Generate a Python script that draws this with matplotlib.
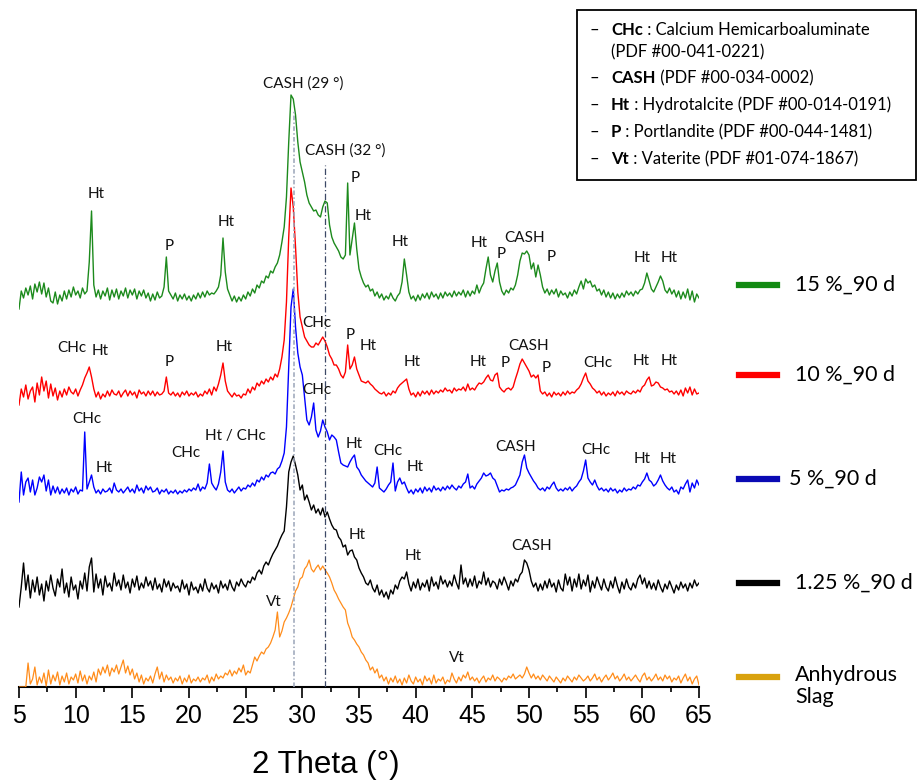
import matplotlib
matplotlib.use('Agg')
import matplotlib.pyplot as plt
from matplotlib.lines import Line2D
from matplotlib.patches import Rectangle
import numpy as np

# 2 Theta scan from 5 to 65 degrees, step 0.2 degree (301 points)
two_theta = np.linspace(5, 65, 301)

# Intensities (a.u., already offset for stacking), one row = 2 degrees
green_15 = [
    378, 396, 389, 399, 392, 401, 388, 403, 395, 405,
    393, 404, 390, 399, 386, 384, 395, 383, 392, 386,
    396, 388, 397, 390, 400, 392, 396, 389, 399, 393,
    396, 425, 476, 402, 390, 397, 388, 396, 391, 399,
    387, 397, 390, 398, 388, 396, 391, 399, 389, 397,
    392, 398, 388, 396, 391, 397, 389, 394, 386, 393,
    387, 395, 389, 391, 400, 430, 396, 392, 388, 394,
    386, 392, 388, 393, 387, 391, 386, 392, 388, 394,
    389, 395, 390, 396, 392, 394, 393, 396, 400, 412,
    449, 415, 398, 392, 386, 391, 385, 390, 386, 392,
    388, 395, 391, 398, 394, 402, 399, 406, 404, 411,
    409, 416, 414, 420, 424, 432, 445, 460, 490, 545,
    592, 588, 572, 545, 525, 515, 505, 492, 484, 480,
    476, 477, 472, 470, 480, 486, 484, 462, 450, 444,
    440, 436, 430, 428, 432, 504, 432, 448, 464, 438,
    418, 410, 404, 400, 402, 396, 398, 391, 395, 389,
    393, 387, 391, 388, 394, 389, 386, 391, 394, 405,
    428, 412, 395, 388, 391, 386, 392, 387, 393, 389,
    394, 388, 395, 390, 393, 388, 394, 389, 395, 391,
    394, 390, 396, 391, 395, 392, 397, 390, 396, 391,
    396, 393, 402, 394, 400, 404, 418, 430, 412, 405,
    416, 424, 405, 396, 392, 397, 394, 399, 397, 402,
    412, 426, 434, 433, 436, 432, 418, 424, 410, 422,
    412, 400, 394, 398, 392, 397, 393, 398, 390, 396,
    392, 394, 389, 395, 391, 397, 393, 400, 406, 398,
    408, 404, 406, 400, 402, 396, 398, 392, 397, 390,
    395, 389, 394, 388, 393, 389, 394, 390, 396, 392,
    395, 391, 396, 393, 397, 398, 404, 414, 406, 398,
    395, 400, 405, 411, 406, 397, 394, 399, 393, 397,
    390, 396, 388, 395, 389, 398, 387, 396, 385, 393,
    389]

red_10 = [
    282, 298, 290, 302, 288, 296, 300, 285, 304, 292,
    310, 296, 306, 289, 303, 291, 299, 287, 296, 290,
    298, 292, 300, 295, 293, 298, 291, 297, 302, 309,
    314, 320, 310, 298, 290, 295, 288, 293, 290, 296,
    291, 297, 293, 292, 296, 290, 294, 297, 291, 296,
    292, 295, 289, 297, 293, 295, 291, 296, 292, 296,
    291, 295, 292, 293, 296, 310, 294, 292, 295, 291,
    294, 290, 295, 292, 296, 291, 294, 292, 295, 290,
    293, 291, 296, 293, 298, 292, 300, 296, 303, 312,
    324, 306, 296, 293, 290, 294, 291, 292, 289, 293,
    292, 298, 294, 300, 297, 304, 301, 306, 303, 308,
    305, 310, 307, 313, 310, 318, 330, 347, 385, 450,
    499, 480, 440, 395, 370, 360, 350, 346, 342, 340,
    340, 344, 342, 346, 350, 346, 340, 332, 328, 322,
    322, 318, 312, 309, 315, 342, 318, 322, 330, 318,
    312, 306, 305, 304, 306, 303, 301, 298, 296, 294,
    293, 295, 291, 294, 292, 296, 294, 299, 302, 304,
    306, 308, 298, 292, 294, 290, 295, 291, 296, 293,
    296, 292, 297, 293, 296, 294, 297, 295, 299, 296,
    297, 294, 299, 296, 298, 297, 300, 296, 303, 297,
    299, 297, 301, 304, 303, 305, 309, 312, 307, 306,
    312, 314, 300, 297, 295, 298, 299, 297, 300, 308,
    315, 323, 328, 324, 320, 316, 310, 312, 309, 312,
    296, 293, 295, 291, 294, 290, 295, 292, 294, 291,
    295, 292, 296, 293, 295, 294, 297, 299, 303, 309,
    314, 306, 303, 299, 297, 294, 296, 292, 295, 291,
    294, 292, 295, 291, 296, 293, 295, 292, 296, 294,
    293, 296, 294, 297, 295, 300, 302, 307, 310, 301,
    302, 305, 304, 300, 299, 297, 298, 295, 296, 293,
    296, 292, 297, 291, 299, 294, 300, 292, 298, 293,
    294]

blue_5 = [
    185, 215, 192, 205, 209, 195, 207, 192, 199, 210,
    205, 212, 196, 207, 192, 201, 194, 200, 193, 198,
    194, 199, 192, 198, 195, 200, 193, 197, 196, 255,
    198, 205, 212, 200, 194, 197, 193, 198, 195, 196,
    199, 194, 204, 197, 195, 198, 194, 197, 200, 195,
    198, 194, 202, 196, 199, 194, 201, 197, 200, 195,
    196, 199, 193, 197, 195, 198, 193, 196, 194, 197,
    193, 196, 194, 197, 195, 198, 196, 199, 197, 203,
    196, 200, 198, 204, 223, 204, 200, 197, 203, 215,
    236, 205, 197, 195, 198, 194, 197, 200, 196, 199,
    198, 202, 200, 204, 201, 207, 205, 210, 207, 212,
    210, 214, 215, 213, 218, 220, 226, 234, 260, 320,
    380, 398, 360, 334, 320, 312, 290, 267, 262, 270,
    284, 257, 250, 256, 267, 260, 255, 247, 252, 250,
    247, 235, 224, 222, 221, 220, 225, 229, 232, 220,
    217, 212, 209, 206, 204, 202, 200, 204, 220, 199,
    197, 195, 198, 202, 205, 224, 196, 205, 209, 203,
    205, 199, 194, 197, 193, 198, 195, 199, 194, 200,
    196, 199, 195, 201, 197, 199, 196, 200, 197, 201,
    198, 202, 199, 197, 201, 199, 203, 205, 213, 199,
    201, 198, 203, 206, 209, 214, 211, 212, 214, 209,
    207, 201, 195, 197, 196, 198, 197, 199, 200, 202,
    207, 212, 225, 232, 219, 214, 210, 206, 203, 199,
    197, 199, 196, 200, 198, 202, 205, 199, 196, 198,
    196, 199, 197, 200, 196, 199, 201, 205, 208, 216,
    227, 209, 205, 202, 207, 201, 197, 199, 196, 198,
    195, 199, 196, 198, 194, 197, 195, 199, 196, 198,
    197, 200, 198, 202, 201, 205, 208, 214, 207, 205,
    201, 203, 207, 212, 206, 202, 199, 197, 200, 195,
    197, 193, 200, 198, 203, 207, 195, 204, 199, 207,
    202]

black_125 = [
    80, 100, 124, 97, 112, 89, 107, 95, 110, 92,
    103, 86, 106, 96, 112, 99, 91, 108, 100, 118,
    94, 104, 90, 110, 97, 102, 88, 106, 98, 114,
    96, 120, 129, 95, 113, 99, 108, 92, 111, 100,
    104, 96, 114, 101, 107, 97, 112, 99, 105, 94,
    108, 100, 111, 97, 104, 99, 110, 101, 106, 97,
    109, 98, 103, 95, 108, 100, 106, 96, 104, 99,
    101, 95, 107, 98, 103, 92, 105, 97, 100, 94,
    103, 96, 108, 99, 95, 104, 98, 102, 94, 106,
    99, 103, 97, 107, 100, 96, 105, 101, 108, 103,
    100, 106, 104, 110, 107, 114, 117, 113, 121, 125,
    122, 128, 133, 137, 141, 147, 152, 156, 180, 215,
    225, 231, 222, 212, 197, 202, 187, 192, 185, 177,
    182, 174, 178, 172, 179, 170, 175, 168, 162, 158,
    157, 150, 147, 140, 142, 132, 136, 137, 130, 127,
    119, 114, 110, 104, 102, 107, 99, 95, 102, 92,
    97, 90, 95, 88, 97, 93, 102, 98, 106, 110,
    108, 115, 103, 96, 105, 99, 108, 97, 104, 100,
    107, 96, 110, 101, 105, 98, 111, 103, 107, 100,
    106, 101, 112, 104, 98, 122, 103, 109, 100, 108,
    101, 111, 99, 106, 103, 115, 102, 109, 100, 106,
    104, 98, 108, 102, 110, 104, 97, 106, 101, 108,
    105, 112, 115, 127, 124, 117, 106, 100, 104, 96,
    103, 97, 106, 99, 108, 100, 104, 95, 107, 99,
    96, 113, 102, 110, 96, 108, 100, 113, 98, 107,
    101, 112, 95, 106, 99, 110, 103, 97, 108, 100,
    96, 106, 99, 110, 101, 94, 105, 98, 108, 100,
    97, 104, 99, 108, 112, 103, 109, 99, 106, 98,
    104, 97, 107, 100, 95, 103, 98, 106, 100, 94,
    102, 97, 105, 99, 103, 96, 104, 99, 107, 101,
    104]

orange_slag = [
    0, 0, 0, 0, 24, 3, 8, 20, 2, 10,
    4, 14, 1, 17, 3, 12, 6, 15, 2, 11,
    5, 14, 3, 10, 7, 13, 4, 16, 6, 12,
    3, 11, 7, 15, 5, 18, 12, 20, 14, 22,
    11, 19, 15, 22, 13, 20, 27, 14, 21, 12,
    18, 8, 14, 5, 12, 3, 9, 6, 11, 4,
    13, 20, 8, 15, 5, 12, 7, 10, 4, 9,
    6, 11, 3, 9, 5, 12, 4, 8, 6, 10,
    5, 9, 7, 12, 4, 10, 6, 13, 8, 11,
    9, 14, 12, 17, 11, 16, 13, 19, 15, 22,
    12, 16, 14, 22, 30, 26, 31, 35, 33, 38,
    40, 44, 50, 57, 75, 50, 56, 65, 69, 74,
    80, 88, 96, 100, 108, 110, 118, 121, 127, 118,
    115, 119, 122, 117, 121, 117, 114, 110, 104, 97,
    93, 88, 84, 80, 77, 64, 58, 50, 47, 43,
    40, 35, 32, 27, 24, 17, 20, 14, 18, 9,
    12, 6, 10, 3, 9, 5, 11, 4, 8, 2,
    9, 4, 12, 6, 3, 10, 5, 8, 2, 11,
    6, 9, 3, 12, 4, 8, 6, 10, 3, 7,
    5, 14, 8, 4, 10, 6, 12, 9, 15, 7,
    10, 6, 9, 4, 8, 11, 5, 9, 7, 12,
    6, 10, 8, 5, 9, 7, 11, 9, 13, 8,
    10, 12, 9, 13, 20, 14, 9, 13, 8, 11,
    7, 12, 9, 6, 11, 8, 5, 10, 7, 4,
    9, 6, 11, 8, 5, 10, 7, 12, 9, 6,
    8, 11, 6, 9, 13, 7, 10, 5, 9, 12,
    7, 10, 14, 8, 11, 6, 9, 13, 7, 10,
    6, 9, 12, 8, 5, 11, 14, 7, 10, 6,
    9, 13, 7, 10, 6, 12, 8, 11, 5, 9,
    7, 11, 4, 9, 13, 6, 10, 3, 8, 11,
    2]

series_names = ['15 %_90 d', '10 %_90 d', '5 %_90 d', '1.25 %_90 d', 'Anhydrous\nSlag']
series_values = [green_15, red_10, blue_5, black_125, orange_slag]

# Phase labels: (text, 2 Theta, height)
green_labels = [('Ht', 11.8, 493), ('P', 18.25, 441), ('Ht', 23.25, 465),
                ('CASH (29 °)', 30.05, 603), ('CASH (32 °)', 33.75, 536),
                ('P', 34.65, 509), ('Ht', 35.35, 471), ('Ht', 38.6, 445),
                ('Ht', 45.6, 444), ('P', 47.55, 433), ('CASH', 49.65, 449),
                ('P', 51.95, 430), ('Ht', 59.95, 429), ('Ht', 62.35, 429)]
red_labels = [('CHc', 9.7, 339), ('Ht', 12.15, 336), ('P', 18.25, 325),
              ('Ht', 23.1, 340), ('CHc', 31.3, 364), ('P', 34.2, 352),
              ('Ht', 35.8, 341), ('Ht', 39.7, 325), ('Ht', 45.5, 325),
              ('P', 47.9, 324), ('CASH', 50.0, 341), ('P', 51.5, 319),
              ('CHc', 56.1, 324), ('Ht', 59.9, 326), ('Ht', 62.35, 326)]
blue_labels = [('CHc', 11.0, 268), ('Ht', 12.5, 219), ('CHc', 19.75, 234),
               ('Ht / CHc', 24.05, 251), ('CHc', 31.3, 297), ('Ht', 34.55, 243),
               ('CHc', 37.55, 236), ('Ht', 39.95, 220), ('CASH', 48.85, 240),
               ('CHc', 55.9, 237), ('Ht', 59.95, 228), ('Ht', 62.25, 228)]
black_labels = [('Ht', 34.8, 152), ('Ht', 39.75, 131), ('CASH', 50.2, 141)]
orange_labels = [('Vt', 27.5, 85), ('Vt', 43.65, 29)]
phase_labels = [green_labels, red_labels, blue_labels, black_labels, orange_labels]

# Reference positions of the CASH reflections (degrees) and where the marker lines end
cash_lines = [29.3, 32.0]
cash_line_tops = [577, 522]

# Phase key in the box, top right
key_bold = ['CHc', None, 'CASH', 'Ht', 'P', 'Vt']
key_text = [' : Calcium Hemicarboaluminate', '(PDF #00-041-0221)', ' (PDF #00-034-0002)',
            ' : Hydrotalcite (PDF #00-014-0191)', ' : Portlandite (PDF #00-044-1481)',
            ' : Vaterite (PDF #01-074-1867)']

W, H = 918, 780
trace_colors = ['#1c8a1c', '#ff0000', '#0000ff', '#000000', '#ff8c1a']
legend_colors = ['#128a12', '#ff0000', '#0a0ab4', '#000000', '#d9a20e']
label_font = 'Lato'


def px(x, y):
    # pixel position (from top left) to figure fraction
    return x / W, 1 - y / H


def create_xrd_chart():
    fig = plt.figure(figsize=(W / 100, H / 100), dpi=100)
    ax = fig.add_axes([19 / W, (H - 687) / H, 680 / W, 687 / H])
    ax.set_xlim(5, 65)
    ax.set_ylim(0, 687)
    for side in ['left', 'right', 'top']:
        ax.spines[side].set_visible(False)
    ax.spines['bottom'].set_linewidth(1.5)
    ax.set_yticks([])
    ax.set_xticks(np.arange(5, 66, 5))
    ax.set_xticks(np.arange(7.5, 65, 5), minor=True)
    ax.tick_params(axis='x', which='major', length=8, width=1.2, pad=4,
                   labelsize=18)
    ax.tick_params(axis='x', which='minor', length=3.6, width=1.2)
    for lab in ax.get_xticklabels():
        lab.set_fontfamily('Liberation Sans')
    ax.patch.set_alpha(0)
    return fig, ax


def add_traces(ax):
    for values, color in zip(series_values, trace_colors):
        lw = 0.9 if color == '#ff8c1a' else 1.0
        ax.plot(two_theta, values, color=color, lw=lw, zorder=3)

    # CASH marker lines
    ax.plot([cash_lines[0]] * 2, [0, cash_line_tops[0]], color='#9aa4b8', lw=1.1,
            dashes=(3, 1.5, 1, 1.5), zorder=4)
    ax.plot([cash_lines[1]] * 2, [0, cash_line_tops[1]], color='#3c4866', lw=0.9,
            dashes=(5, 2, 1, 2), zorder=4)

    for labels in phase_labels:
        for text, x, y in labels:
            ax.text(x, y, text, ha='center', va='center', fontsize=11,
                    family=label_font, color='#111111', zorder=5)


def add_series_legend(fig):
    rows = [285, 375, 479, 583, 677]
    for name, color, y in zip(series_names, legend_colors, rows):
        x0, y0 = px(739, y)
        x1, _ = px(777, y)
        fig.add_artist(Line2D([x0, x1], [y0, y0], color=color, lw=4.5,
                              transform=fig.transFigure))
        tx = 789 if name.startswith('5 ') else 795
        if '\n' in name:
            fig.text(*px(tx, 665), name, ha='left', va='top', fontsize=15.5,
                     family=label_font, linespacing=1.15)
        else:
            fig.text(*px(tx, y), name, ha='left', va='center', fontsize=15.5,
                     family=label_font)


def add_phase_key(fig):
    x0, y0 = px(577, 180)
    fig.add_artist(Rectangle((x0, y0), 339 / W, 170 / H, transform=fig.transFigure,
                             fill=False, edgecolor='black', lw=1.3))
    renderer = fig.canvas.get_renderer()
    rows = [30, 52, 78, 105, 132, 159]
    for bold, text, y in zip(key_bold, key_text, rows):
        x = 611
        if bold is not None:
            fig.text(*px(594, y), '–', ha='center', va='center', fontsize=12,
                     family=label_font)
            t = fig.text(*px(x, y), bold, ha='left', va='center', fontsize=12,
                         family=label_font, fontweight='bold')
            x = t.get_window_extent(renderer).x1
        fig.text(*px(x, y), text, ha='left', va='center', fontsize=12,
                 family=label_font)


fig, ax = create_xrd_chart()
add_traces(ax)
add_series_legend(fig)
add_phase_key(fig)
fig.text(*px(326, 765), '2 Theta (°)', ha='center', va='center', fontsize=22.5,
         family='Liberation Sans')
fig.savefig('out.png', dpi=100)
